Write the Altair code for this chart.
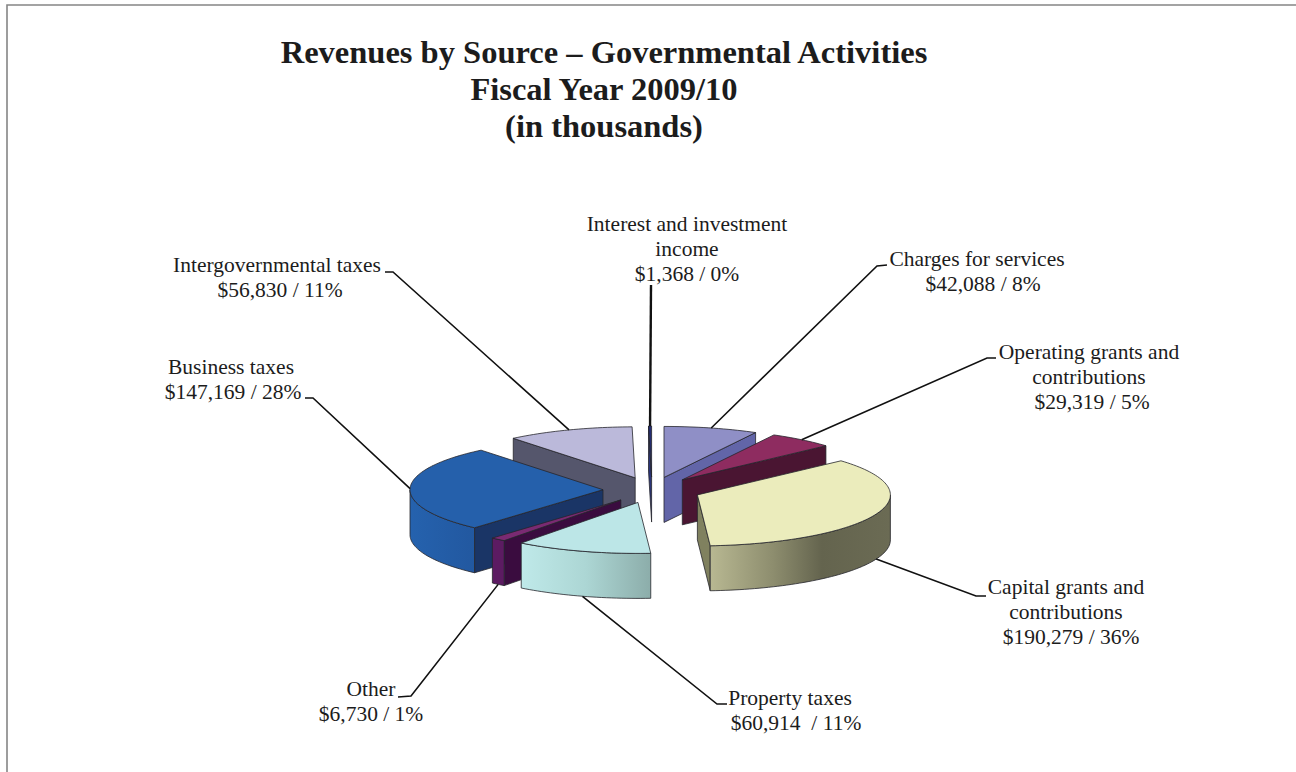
import math
import altair as alt
import pandas as pd

# Revenue by source, in thousands of dollars, clockwise from twelve o'clock
SOURCES = ["Charges for services", "Operating grants and contributions",
           "Capital grants and contributions", "Property taxes", "Other",
           "Business taxes", "Intergovernmental taxes",
           "Interest and investment income"]
VALUES = [42088, 29319, 190279, 60914, 6730, 147169, 56830, 1368]

TITLE_LINES = ["Revenues by Source \u2013 Governmental Activities",
               "Fiscal Year 2009/10", "(in thousands)"]
TITLE_POS = [(604, 53), (604, 90), (604, 127)]

LABEL_LINES = [
    "Interest and investment", "income", "$1,368 / 0%",
    "Charges for services", "$42,088 / 8%",
    "Operating grants and", "contributions", "$29,319 / 5%",
    "Capital grants and", "contributions", "$190,279 / 36%",
    "Property taxes", "$60,914\u00a0 / 11%",
    "Other", "$6,730 / 1%",
    "Business taxes", "$147,169 / 28%",
    "Intergovernmental taxes", "$56,830 / 11%",
]
LABEL_POS = [
    (687, 225), (687, 250), (687, 275),
    (977, 260), (983, 285),
    (1089, 353), (1089, 378), (1092, 403),
    (1066, 588), (1066, 613), (1071, 638),
    (790, 699), (796, 724),
    (371, 690), (371, 715),
    (231, 368), (233, 393),
    (277, 266), (280, 291),
]

# Where each leader bends and stops, keyed by source
LEADER_ENDS = {
    "Charges for services": [(877, 266), (887, 265)],
    "Operating grants and contributions": [(987, 358), (996, 358)],
    "Capital grants and contributions": [(976, 596), (986, 596)],
    "Property taxes": [(717, 704), (727, 704)],
    "Other": [(411, 696), (398, 697)],
    "Business taxes": [(313, 398), (305, 398)],
    "Intergovernmental taxes": [(393, 272), (385, 272)],
    "Interest and investment income": [(651, 285)],
}
LEADER_WEIGHT = {"Interest and investment income": 2.4}


def wall(*stops):
    return alt.LinearGradient(
        gradient="linear", x1=0, x2=1, y1=0, y2=0,
        stops=[alt.GradientStop(offset=o, color=c) for o, c in stops],
    )


# top face, cut face, rim
STYLES = {
    "Charges for services": ("#8f8fc6", "#6265a8", "#6265a8"),
    "Operating grants and contributions": ("#8e2c60", "#4a1532", "#4a1532"),
    "Capital grants and contributions": (
        "#ebecbc", "#80815f",
        wall((0, "#b8b892"), (0.35, "#8d8d6e"), (0.62, "#64644e"), (1, "#6b6b54"))),
    "Property taxes": ("#bce6e7", "#9dbfbe",
                       wall((0, "#bfe9e9"), (0.5, "#acd6d4"), (1, "#8cadaa"))),
    "Other": ("#7a2a72", "#3a0c3f", "#5c1b62"),
    "Business taxes": ("#2560ab", "#1a3566", wall((0, "#2562ae"), (1, "#2258a0"))),
    "Intergovernmental taxes": ("#bbb9da", "#55566c", "#55566c"),
    "Interest and investment income": ("#232c72", "#2a3478", "#2a3478"),
}

# Exploded pie geometry, in page pixels
CENTER = (652, 490)
RX, RY = 193, 51
DEPTH = 45
EXPLODE = 49
DRAW_ORDER = [7, 6, 0, 1, 2, 5, 4, 3]

total = sum(VALUES)
bounds = [0.0]
for v in VALUES:
    bounds.append(bounds[-1] + 360.0 * v / total)


def rim_point(apex, deg, drop=0.0):
    a = math.radians(deg)
    return (apex[0] + RX * math.sin(a), apex[1] - RY * math.cos(a) + drop)


def apex_of(start, end):
    mid = math.radians((start + end) / 2)
    return (CENTER[0] + EXPLODE * math.sin(mid),
            CENTER[1] - EXPLODE * math.cos(mid) * RY / RX)


def arc_angles(start, end):
    n = max(2, int((end - start) / 1.5) + 1)
    return [start + (end - start) * i / n for i in range(n + 1)]


def face_layer(ring, fill):
    feature = {
        "type": "Feature",
        "properties": {},
        "geometry": {"type": "Polygon",
                     "coordinates": [[list(p) for p in ring] + [list(ring[0])]]},
    }
    return (
        alt.Chart(alt.InlineData(values=[feature]))
        .mark_geoshape(fill=fill, stroke="#26262c", strokeWidth=0.8, strokeJoin="round")
        .project(type="identity", scale=1, translate=[0, 0])
    )


x_pixels = alt.X("x:Q", axis=None, scale=alt.Scale(domain=[0, 1296], nice=False, zero=False))
y_pixels = alt.Y("y:Q", axis=None, scale=alt.Scale(domain=[772, 0], nice=False, zero=False))

layers = []

# Page frame along the top and left edges
frame = pd.DataFrame({"x": [1296, 7, 7], "y": [5, 5, 772], "o": [0, 1, 2]})
layers.append(alt.Chart(frame).mark_line(color="#858585", strokeWidth=1.6)
              .encode(x=x_pixels, y=y_pixels, order="o:Q"))

for i in DRAW_ORDER:
    start, end = bounds[i], bounds[i + 1]
    apex = apex_of(start, end)
    top, cut, rim = STYLES[SOURCES[i]]

    # Cut faces that turn towards the viewer
    for edge, visible in ((end, 0 < end < 180), (start, 180 < start < 360)):
        if visible:
            o = rim_point(apex, edge)
            layers.append(face_layer(
                [apex, o, (o[0], o[1] + DEPTH), (apex[0], apex[1] + DEPTH)], cut))

    # Curved rim on the near half of the ellipse
    lo, hi = max(start, 90), min(end, 270)
    if hi > lo:
        angles = arc_angles(lo, hi)
        ring = [rim_point(apex, d) for d in angles]
        ring += [rim_point(apex, d, DEPTH) for d in reversed(angles)]
        layers.append(face_layer(ring, rim))

    # Top surface
    layers.append(face_layer(
        [apex] + [rim_point(apex, d) for d in arc_angles(start, end)], top))

# Leader lines from the middle of each slice's edge out to its label
rows = []
for i, name in enumerate(SOURCES):
    start, end = bounds[i], bounds[i + 1]
    mid = (start + end) / 2
    drop = DEPTH if 90 < mid < 270 else 0
    first = rim_point(apex_of(start, end), mid, drop)
    for k, (px, py) in enumerate([first] + LEADER_ENDS[name]):
        rows.append({"source": name, "x": px, "y": py, "o": k,
                     "weight": LEADER_WEIGHT.get(name, 1.6)})
leaders = pd.DataFrame(rows)
layers.append(alt.Chart(leaders).mark_line(color="#111111")
              .encode(x=x_pixels, y=y_pixels, detail="source:N", order="o:Q",
                      strokeWidth=alt.StrokeWidth("weight:Q", scale=None, legend=None)))

# Slice labels, one row per printed line
labels = pd.DataFrame({"text": LABEL_LINES,
                       "x": [p[0] for p in LABEL_POS],
                       "y": [p[1] for p in LABEL_POS]})
layers.append(alt.Chart(labels)
              .mark_text(font="Liberation Serif", fontSize=21.5, color="#1c1c1c",
                         align="center", baseline="middle")
              .encode(x=x_pixels, y=y_pixels, text="text:N"))

titles = pd.DataFrame({"text": TITLE_LINES,
                       "x": [p[0] for p in TITLE_POS],
                       "y": [p[1] for p in TITLE_POS]})
layers.append(alt.Chart(titles)
              .mark_text(font="Liberation Serif", fontSize=32.5, fontWeight="bold",
                         color="#1c1c1c", align="center", baseline="middle")
              .encode(x=x_pixels, y=y_pixels, text="text:N"))

chart = (
    alt.layer(*layers)
    .properties(width=1296, height=772, padding=0,
                autosize=alt.AutoSizeParams(type="none"), background="#ffffff")
    .configure_view(stroke=None)
)
chart.save("out.html", embed_options={"renderer": "svg", "actions": False})
